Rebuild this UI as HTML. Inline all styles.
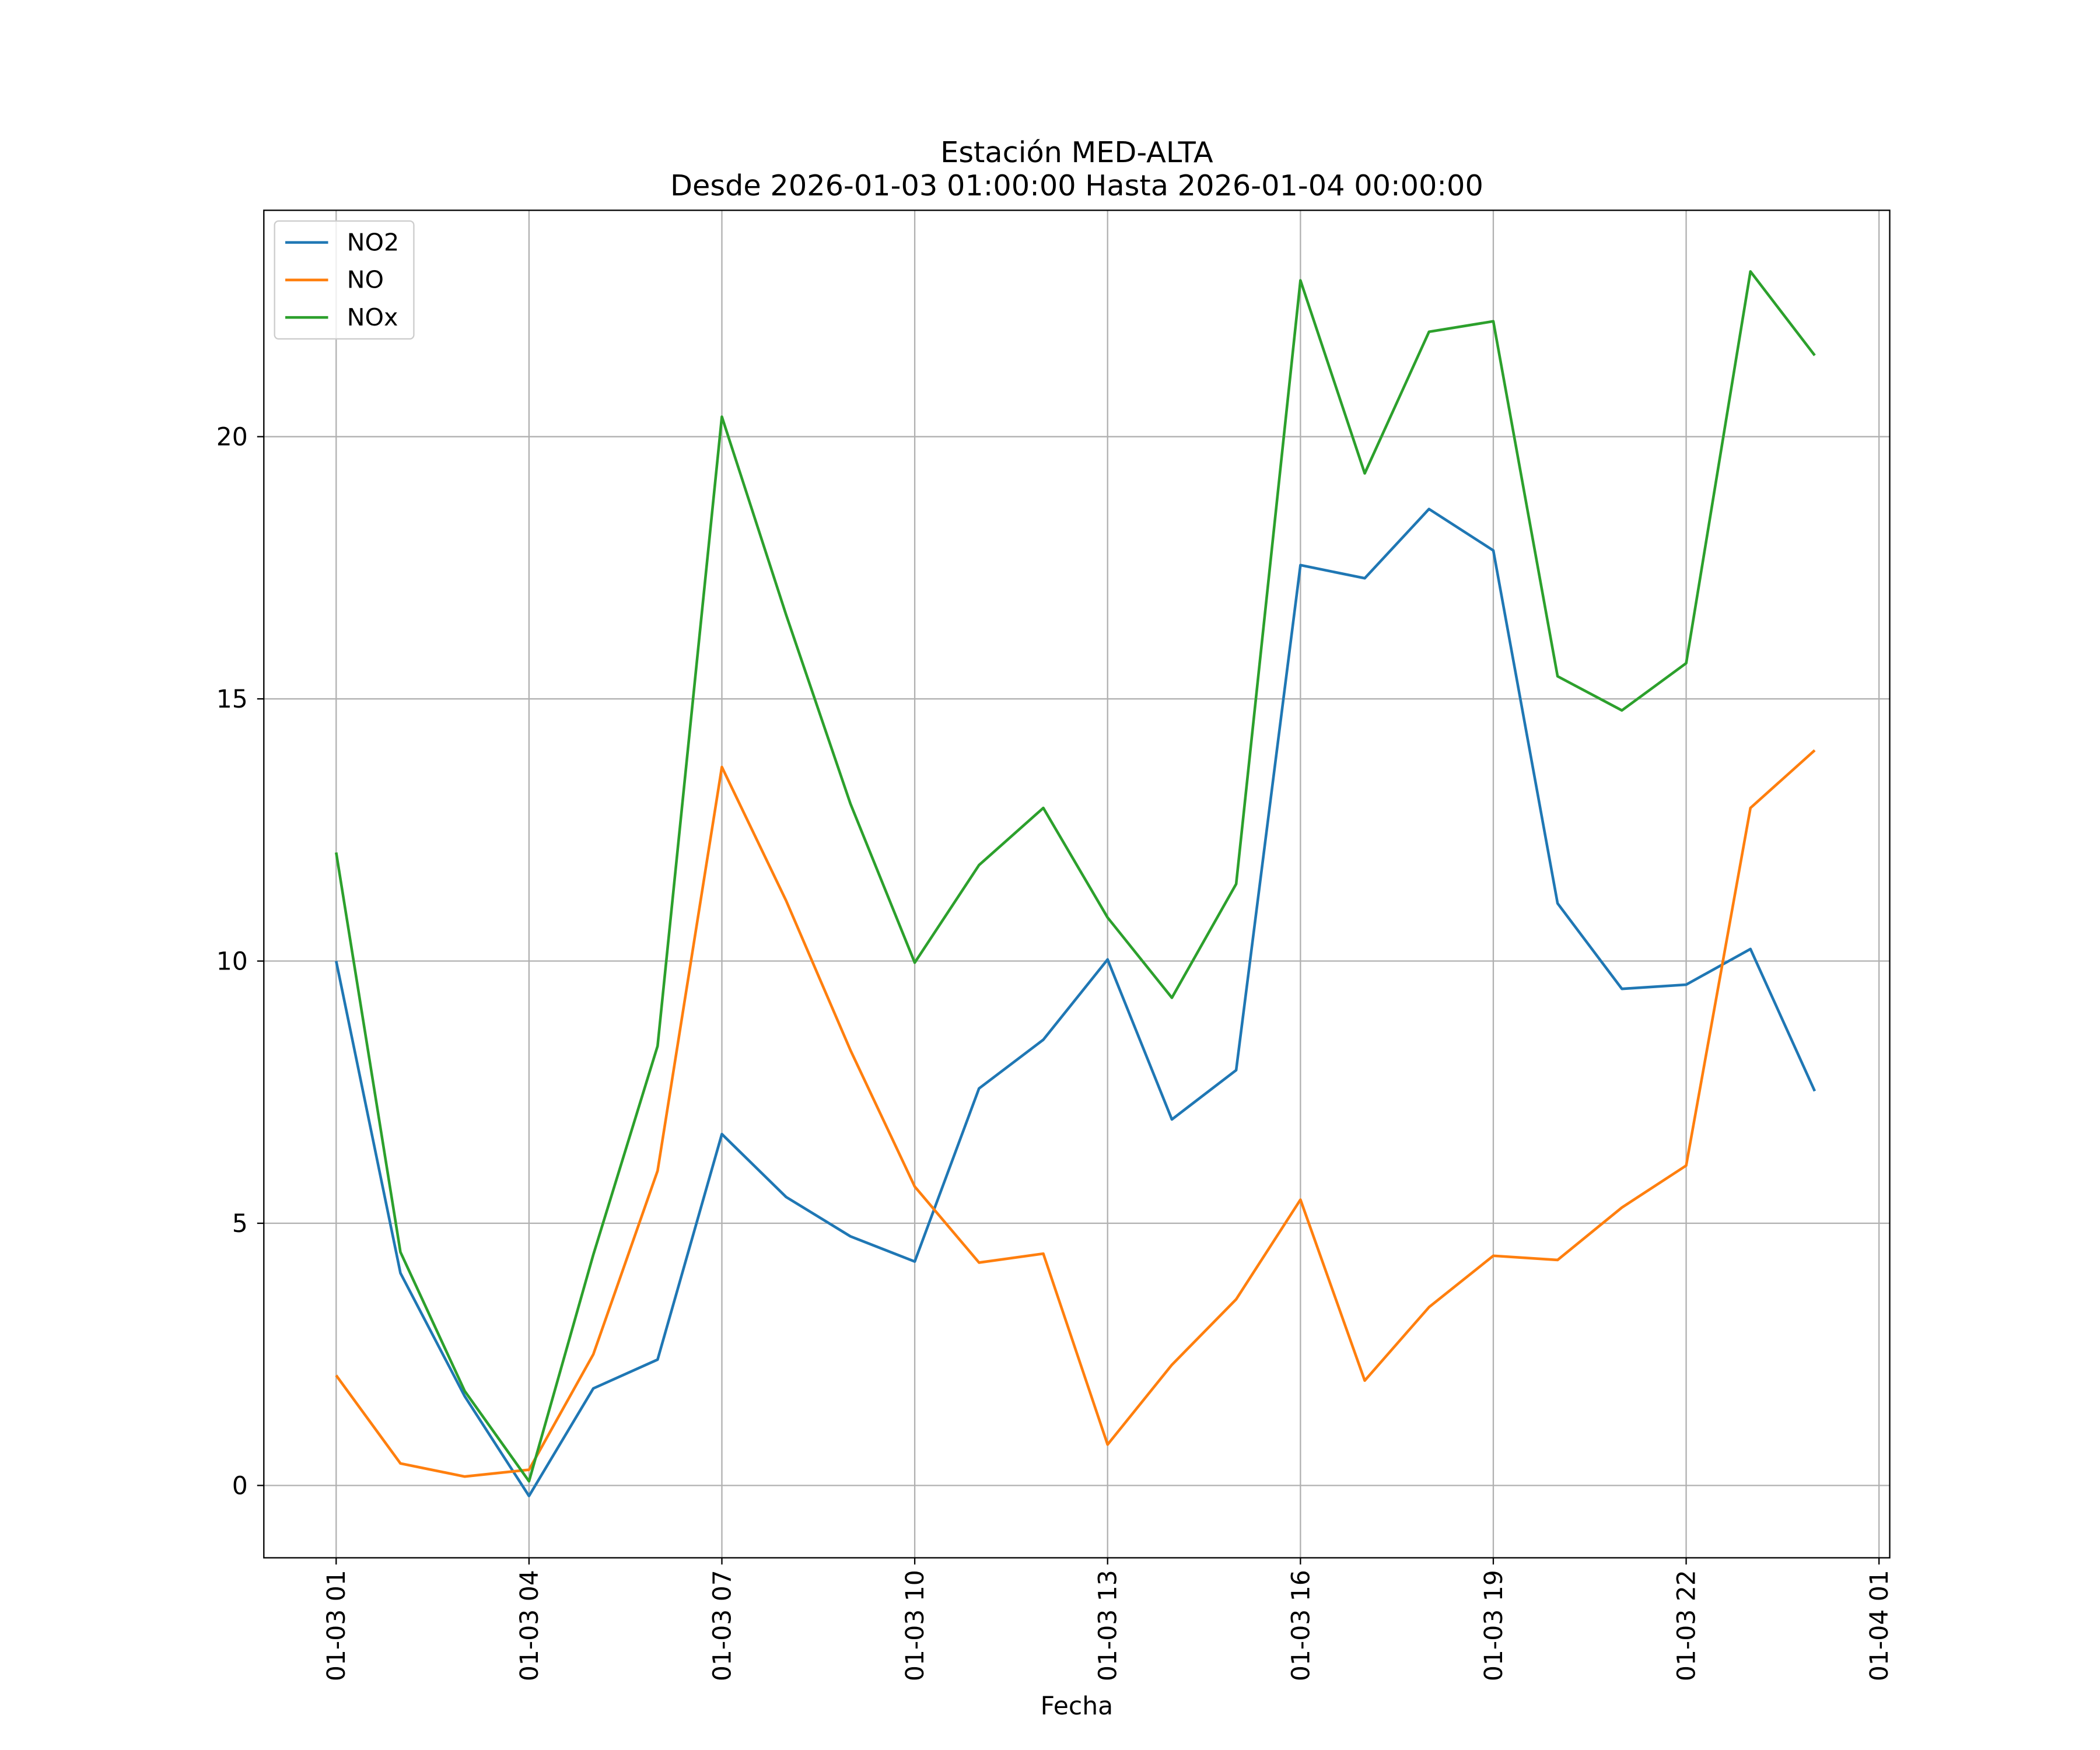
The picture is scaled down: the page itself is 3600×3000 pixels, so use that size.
<!DOCTYPE html>
<html><head><meta charset="utf-8"><style>
html,body{margin:0;padding:0;background:#fff;}
svg{display:block;font-family:"DejaVu Sans","Liberation Sans",sans-serif;}
</style></head><body>
<svg id="chart" width="3600" height="3000" viewBox="0 0 1568 1306.5" preserveAspectRatio="none" xmlns="http://www.w3.org/2000/svg">
<rect width="1568" height="1306.5" fill="#fff"/>
<text x="804" y="121" font-size="21.5" text-anchor="middle">Estación MED-ALTA</text>
<text x="804" y="146" font-size="21.5" text-anchor="middle">Desde 2026-01-03 01:00:00 Hasta 2026-01-04 00:00:00</text>
<g id="grid"></g>
<g id="series"></g>
<rect x="197" y="157" width="1214" height="1006" fill="none" stroke="#000" stroke-width="1"/>
<g id="axes"></g>
<text x="804" y="1280" font-size="18.5" text-anchor="middle">Fecha</text>
<g>
<rect x="205" y="165" width="104" height="88" fill="#fff" fill-opacity="0.8" stroke="#ccc" rx="3"/>
<line x1="213" y1="181" x2="245" y2="181" stroke="#1f77b4" stroke-width="2"/>
<text x="259" y="187" font-size="18">NO2</text>
<line x1="213" y1="209" x2="245" y2="209" stroke="#ff7f0e" stroke-width="2"/>
<text x="259" y="215" font-size="18">NO</text>
<line x1="213" y1="237" x2="245" y2="237" stroke="#2ca02c" stroke-width="2"/>
<text x="259" y="243" font-size="18">NOx</text>
</g>
</svg>
<script>
const hours = [1,2,3,4,5,6,7,8,9,10,11,12,13,14,15,16,17,18,19,20,21,22,23,24];
const no2 = [10.0,4.05,1.7,-0.2,1.85,2.4,6.7,5.5,4.75,4.27,7.57,8.5,10.03,6.98,7.92,17.55,17.3,18.62,17.83,11.1,9.47,9.55,10.23,7.52];
const no = [2.1,0.42,0.17,0.3,2.5,6.0,13.7,11.15,8.3,5.7,4.25,4.42,0.78,2.3,3.55,5.45,2.0,3.4,4.38,4.3,5.3,6.1,12.92,14.02];
const nox = [12.07,4.45,1.8,0.08,4.4,8.38,20.38,16.6,13.0,9.97,11.83,12.92,10.83,9.3,11.47,22.98,19.3,22.0,22.2,15.43,14.78,15.68,23.15,21.55];
const yTicks = [0,5,10,15,20];
const xTickHours = [1,4,7,10,13,16,19,22,25];
const xTickLabels = ["01-03 01","01-03 04","01-03 07","01-03 10","01-03 13","01-03 16","01-03 19","01-03 22","01-04 01"];

const NS="http://www.w3.org/2000/svg";
const xs = h => 251 + (h-1)*48;
const ys = v => 1109 - v*39.15;
function mk(tag, attrs, parent){const e=document.createElementNS(NS,tag);for(const k in attrs)e.setAttribute(k,attrs[k]);parent.appendChild(e);return e;}
const grid=document.getElementById('grid'), axes=document.getElementById('axes'), series=document.getElementById('series');
yTicks.forEach(t=>{
  const y=ys(t);
  const g=mk('line',{x1:197,x2:1411,y1:y,y2:y,stroke:'#b0b0b0','stroke-width':1},grid);
  
  
  mk('line',{x1:192,x2:197,y1:y,y2:y,stroke:'#000'},axes);
  const tx=mk('text',{x:185,y:y+6.5,'font-size':18.5,'text-anchor':'end'},axes);
  tx.textContent=t;
  
  
});
xTickHours.forEach((h,i)=>{
  const x=xs(h);
  const g=mk('line',{x1:x,x2:x,y1:157,y2:1163,stroke:'#b0b0b0','stroke-width':1},grid);
  
  
  mk('line',{x1:x,x2:x,y1:1163,y2:1168,stroke:'#000'},axes);
  const tx=mk('text',{x:0,y:0,'font-size':18.5,'text-anchor':'end',transform:`translate(${x+6.5},1172) rotate(-90)`},axes);
  tx.textContent=xTickLabels[i];
  
  
});
[[no2,'#1f77b4','series-no2'],[no,'#ff7f0e','series-no'],[nox,'#2ca02c','series-nox']].forEach(([d,c,n])=>{
  const p=mk('polyline',{points:d.map((v,i)=>xs(hours[i])+','+ys(v)).join(' '),fill:'none',stroke:c,'stroke-width':2,'stroke-linejoin':'round'},series);
  
  
});
</script>
</body></html>
